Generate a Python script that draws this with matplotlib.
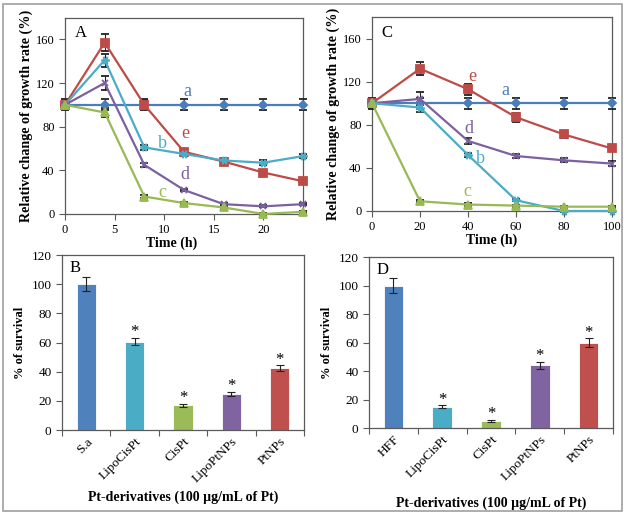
import matplotlib.pyplot as plt
from matplotlib.patches import Rectangle
import numpy as np

plt.rcParams['font.family'] = ['Liberation Serif', 'DejaVu Serif']

# panel A: growth over 24 h
time_a = [0, 4, 8, 12, 16, 20, 24]
a_a = [100, 100, 100, 100, 100, 100, 100]
e_a = [100, 157, 100, 57, 48, 38, 30]
b_a = [100, 141, 61, 55, 49, 47, 53]
d_a = [100, 120, 45, 22, 9, 7, 9]
c_a = [100, 93, 16, 10, 6, 0, 2]
a_a_err = [5, 5, 5, 5, 5, 5, 5]
e_a_err = [3, 8, 4, 2, 2, 2, 2]
b_a_err = [3, 6, 2, 2, 2, 2, 2]
d_a_err = [3, 6, 2, 1, 1, 1, 1]
c_a_err = [2, 4, 1, 1, 1, 1, 1]

# panel C: growth over 100 h
time_c = [0, 20, 40, 60, 80, 100]
a_c = [100, 100, 100, 100, 100, 100]
e_c = [100, 132, 113, 87, 71, 58]
d_c = [100, 104, 65, 51, 47, 44]
b_c = [100, 96, 52, 10, 0, 0]
c_c = [100, 9, 6, 5, 4, 4]
a_c_err = [5, 5, 5, 5, 5, 5]
e_c_err = [4, 6, 5, 4, 3, 2]
d_c_err = [4, 6, 3, 2, 2, 2]
b_c_err = [3, 4, 2, 1, 1, 1]
c_c_err = [2, 1, 1, 1, 1, 1]

# panels B and D: survival
cats_b = ["S.a", "LipoCisPt", "CisPt", "LipoPtNPs", "PtNPs"]
surv_b = [100, 60.5, 17, 24.7, 42.3]
surv_b_err = [5, 2.5, 1, 1.2, 2]
cats_d = ["HFF", "LipoCisPt", "CisPt", "LipoPtNPs", "PtNPs"]
surv_d = [100, 15, 5, 44, 60]
surv_d_err = [5, 1, 0.5, 2.5, 3]

blue = "#4a7ebb"
red = "#be4b48"
cyan = "#4bacc6"
purple = "#7d60a0"
green = "#98b954"
bar_colors = ["#4f81bd", "#4bacc6", "#9bbb59", "#8064a2", "#c0504d"]
spine_c = "#5a5a5a"

fig = plt.figure(figsize=(6.25, 5.15), dpi=100)
fig.patches.append(Rectangle((0.005, 0.007), 0.99, 0.986, transform=fig.transFigure,
                             fill=False, edgecolor="#a0a0a0", lw=1.2))


def style(ax, size=9):
    for s in ax.spines.values():
        s.set_color(spine_c)
        s.set_linewidth(0.9)
    ax.tick_params(axis='both', labelsize=size, color=spine_c, length=4, width=0.8,
                   top=False, right=False)


def line(ax, x, y, err, color, marker, ms):
    ax.errorbar(x, y, yerr=err, color=color, marker=marker, ms=ms, lw=1.6,
                mew=1.3, ecolor="#222222", elinewidth=0.8, capsize=3, capthick=0.8,
                clip_on=False, zorder=3)


axA = fig.add_axes([0.104, 0.5845, 0.3808, 0.3815])
line(axA, time_a, a_a, a_a_err, blue, 'D', 4)
line(axA, time_a, e_a, e_a_err, red, 's', 5.5)
line(axA, time_a, b_a, b_a_err, cyan, (6, 2, 90), 6)
line(axA, time_a, d_a, d_a_err, purple, 'x', 5)
line(axA, time_a, c_a, c_a_err, green, '^', 5.5)
axA.set_xlim(0, 24)
axA.set_ylim(0, 180)
axA.set_xticks([0, 5, 10, 15, 20])
axA.set_yticks([0, 40, 80, 120, 160])
style(axA)
axA.set_xlabel("Time (h)", fontsize=10, fontweight='bold', labelpad=0, x=0.45)
axA.set_ylabel("Relative change of growth rate (%)", fontsize=10.2, fontweight='bold', labelpad=2)
axA.text(0.04, 0.96, "A", transform=axA.transAxes, fontsize=12, va='top')
for lab, lx, ly, col in [("a", 12.3, 112, blue), ("e", 12.1, 74, red), ("b", 9.8, 65, cyan),
                         ("d", 12.1, 36, purple), ("c", 9.8, 20, green)]:
    axA.text(lx, ly, lab, color=col, fontsize=13, ha='center', va='center')

axC = fig.add_axes([0.5952, 0.5903, 0.384, 0.3767])
line(axC, time_c, a_c, a_c_err, blue, 'D', 4)
line(axC, time_c, e_c, e_c_err, red, 's', 5.5)
line(axC, time_c, d_c, d_c_err, purple, 'x', 5)
line(axC, time_c, b_c, b_c_err, cyan, (6, 2, 90), 6)
line(axC, time_c, c_c, c_c_err, green, '^', 5.5)
axC.set_xlim(0, 100)
axC.set_ylim(0, 180)
axC.set_xticks([0, 20, 40, 60, 80, 100])
axC.set_yticks([0, 40, 80, 120, 160])
style(axC)
axC.set_xlabel("Time (h)", fontsize=10, fontweight='bold', labelpad=0)
axC.set_ylabel("Relative change of growth rate (%)", fontsize=10.2, fontweight='bold', labelpad=2)
axC.text(0.04, 0.96, "C", transform=axC.transAxes, fontsize=12, va='top')
for lab, lx, ly, col in [("e", 42, 125, red), ("a", 55.7, 112, blue), ("d", 40.4, 77, purple),
                         ("b", 45, 49, cyan), ("c", 39.9, 18.5, green)]:
    axC.text(lx, ly, lab, color=col, fontsize=13, ha='center', va='center')


def bars(ax, cats, vals, errs, letter):
    x = np.arange(len(cats))
    ax.bar(x, vals, width=0.4, color=bar_colors, edgecolor='white', lw=0.6, zorder=2)
    ax.errorbar(x, vals, yerr=errs, fmt='none', ecolor="#222222", elinewidth=0.8,
                capsize=3, capthick=0.8, zorder=3)
    for i in range(1, len(cats)):
        ax.text(x[i], vals[i] + errs[i] + 4, "*", ha='center', va='center', fontsize=12)
    ax.set_xlim(-0.5, len(cats) - 0.5)
    ax.set_ylim(0, 120)
    ax.set_yticks(range(0, 121, 20))
    ax.set_xticks(x)
    ax.set_xticklabels(cats, rotation=45, ha='right', rotation_mode='anchor')
    style(ax, 9.5)
    ax.tick_params(axis='x', length=0, pad=4)
    ax.set_xticks(np.arange(len(cats) + 1) - 0.5, minor=True)
    ax.tick_params(axis='x', which='minor', length=4, color=spine_c, width=0.8)
    ax.set_ylabel("% of survival", fontsize=9, fontweight='bold', labelpad=4)
    ax.text(0.03, 0.97, letter, transform=ax.transAxes, fontsize=12, va='top')


axB = fig.add_axes([0.0992, 0.165, 0.3872, 0.3398])
bars(axB, cats_b, surv_b, surv_b_err, "B")
axB.set_xlabel("Pt-derivatives (100 µg/mL of Pt)", fontsize=10, fontweight='bold', labelpad=4)

axD = fig.add_axes([0.5904, 0.1689, 0.3904, 0.332])
bars(axD, cats_d, surv_d, surv_d_err, "D")
axD.set_xlabel("Pt-derivatives (100 µg/mL of Pt)", fontsize=10, fontweight='bold', labelpad=10)

fig.savefig("out.png", dpi=100)
